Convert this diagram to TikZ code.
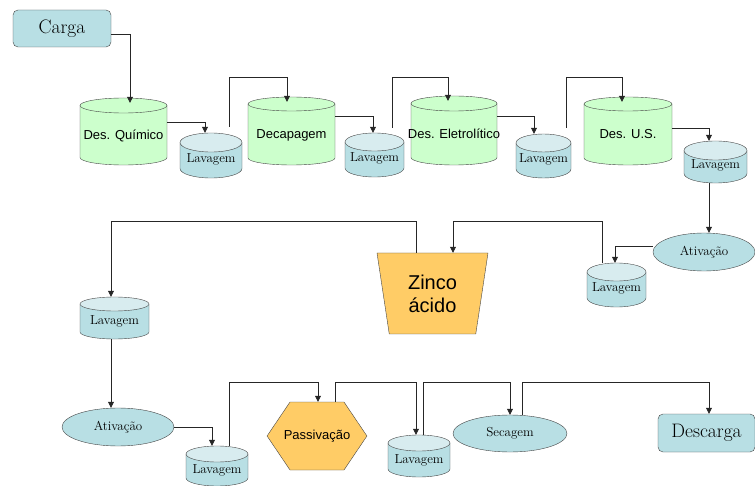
\documentclass[tikz,border=0pt]{standalone}
\usepackage{fontspec}
\setsansfont{Liberation Sans}
\usetikzlibrary{arrows.meta,shapes.geometric,shapes.symbols}

\definecolor{tankgreen}{RGB}{204,255,204}
\definecolor{washblue}{RGB}{184,223,228}
\definecolor{washtop}{RGB}{216,236,239}
\definecolor{bathorange}{RGB}{255,204,102}
\definecolor{edge}{RGB}{70,70,70}

% drum: name, x, y, width, height, cap radius, kind (tank/wash), text
\newcommand{\drum}[8]{%
  \filldraw[#7 body] (#2-#4/2,#3-#5/2+#6) -- (#2-#4/2,#3+#5/2-#6)
    arc[start angle=180, end angle=0, x radius=#4/2, y radius=#6]
    -- (#2+#4/2,#3-#5/2+#6) -- cycle;
  \filldraw[#7 top] (#2,#3-#5/2+#6) ellipse[x radius=#4/2, y radius=#6];
  \node[#7 text, minimum width=#4, minimum height=#5] (#1) at (#2,#3) {#8};
}

\begin{document}
\begin{tikzpicture}[
  x=1pt, y=-1pt,
  tank body/.style={draw=edge, fill=tankgreen},
  tank top/.style={draw=edge, fill=tankgreen},
  tank text/.style={font=\sffamily\fontsize{13}{15}\selectfont, inner sep=0pt, text height=16pt, text depth=0pt},
  wash body/.style={draw=edge, fill=washblue},
  wash top/.style={draw=edge, fill=washtop},
  wash text/.style={font=\fontsize{13}{15}\selectfont, inner sep=0pt, text height=14pt, text depth=0pt},
  term/.style={draw=edge, fill=washblue, rounded corners=5pt, font=\fontsize{19.5}{22}\selectfont, inner sep=0pt},
  ovl/.style={ellipse, draw=edge, fill=washblue, font=\fontsize{13}{15}\selectfont, inner sep=0pt},
  bath/.style={trapezium, shape border rotate=180, trapezium angle=72, trapezium stretches body,
               draw=edge, fill=bathorange, align=center, font=\sffamily\fontsize{20}{23}\selectfont,
               minimum width=111pt, minimum height=81pt, inner sep=0pt},
  hexa/.style={signal, signal to=east and west, signal pointer angle=112, draw=edge, fill=bathorange,
               font=\sffamily\fontsize{13}{15}\selectfont, minimum height=68pt, inner sep=0pt},
  arr/.style={-{Triangle[length=6pt,width=6pt]}, draw=black!85, line width=0.7pt}
]
\useasboundingbox (0,0) rectangle (755,486);

\node[term, minimum width=98pt, minimum height=37pt] (carga) at (62,28.5) {Carga};
\drum{desq}{123.5}{131.5}{87}{67}{7.5}{tank}{Des. Químico}
\drum{lav1}{211}{155.5}{62}{45}{9.5}{wash}{Lavagem}
\drum{decap}{291.5}{131}{87}{68}{7}{tank}{Decapagem}
\drum{lav2}{374.5}{155}{59}{44}{9}{wash}{Lavagem}
\drum{desel}{454}{130.5}{86}{69}{7.5}{tank}{\makebox[0pt]{Des. Eletrolítico}}
\drum{lav3}{543.5}{156}{55}{44}{9}{wash}{Lavagem}
\drum{desus}{628}{131}{88}{68}{7}{tank}{Des. U.S.}
\drum{lav4}{715.5}{162}{63}{42}{9.5}{wash}{Lavagem}
\node[ovl, minimum width=102pt, minimum height=38pt] (ativ1) at (704,252) {Ativação};
\drum{lav5}{616.5}{285}{59}{44}{9}{wash}{Lavagem}
\node[bath] (zinco) at (432.5,293.5) {Zinco\\ácido};
\drum{lav6}{114.5}{318}{69}{42}{7}{wash}{Lavagem}
\node[ovl, minimum width=112pt, minimum height=38pt] (ativ2) at (118,427) {Ativação};
\drum{lav7}{217}{466}{62}{40}{8}{wash}{Lavagem}
\node[hexa] (passiv) at (317,436) {\makebox[54pt]{Passivação}};
\drum{lav8}{419}{456}{62}{42}{8}{wash}{Lavagem}
\node[ovl, minimum width=114pt, minimum height=37pt] (secag) at (510,433.5) {Secagem};
\node[term, minimum width=97pt, minimum height=38pt] (desc) at (706.5,433) {Descarga};

\draw[arr] ([yshift=-5.5pt]carga.east) -| ([xshift=6.5pt,yshift=-5pt]desq.north);
\draw[arr] ([yshift=9.5pt]desq.east) -| ([xshift=-6pt]lav1.north);
\draw[arr] ([xshift=18pt,yshift=6pt]lav1.north) -- ++(0,-49) -| ([xshift=-4.5pt,yshift=-5pt]decap.north);
\draw[arr] ([yshift=15pt]decap.east) -| ([xshift=-1.5pt]lav2.north);
\draw[arr] ([xshift=17.5pt,yshift=5pt]lav2.north) -- ++(0,-50) -| ([xshift=-6pt,yshift=-5pt]desel.north);
\draw[arr] ([yshift=14.5pt]desel.east) -| ([xshift=-9.5pt]lav3.north);
\draw[arr] ([xshift=22.5pt,yshift=6pt]lav3.north) -- ++(0,-50) -| ([xshift=-6pt,yshift=-5pt]desus.north);
\draw[arr] ([yshift=3pt]desus.east) -| ([xshift=-6.5pt]lav4.north);
\draw[arr] ([xshift=-6.5pt]lav4.south) -- ([xshift=5pt]ativ1.north);
\draw[arr] ([yshift=6pt]ativ1.west) -| ([xshift=-1.5pt]lav5.north);
\draw[arr] ([xshift=-14.5pt]lav5.north) -- ++(0,-41) -| ([xshift=20.5pt]zinco.north);
\draw[arr] ([xshift=-16.5pt]zinco.north) -- ++(0,-31) -| ([xshift=-3.5pt]lav6.north);
\draw[arr] ([xshift=-3.5pt]lav6.south) -- ([xshift=-7pt]ativ2.north);
\draw[arr] (ativ2.east) -| ([xshift=-5pt]lav7.north);
\draw[arr] ([xshift=12pt]lav7.north) -- ++(0,-63) -| ([xshift=1pt]passiv.north);
\draw[arr] ([xshift=18pt]passiv.north) -- ++(0,-19) -| ([xshift=-3pt]lav8.north);
\draw[arr] ([xshift=4pt]lav8.north) -- ++(0,-52) -| (secag.north);
\draw[arr] ([xshift=12pt]secag.north) -- ++(0,-32) -| ([xshift=2.5pt]desc.north);
\end{tikzpicture}
\end{document}
